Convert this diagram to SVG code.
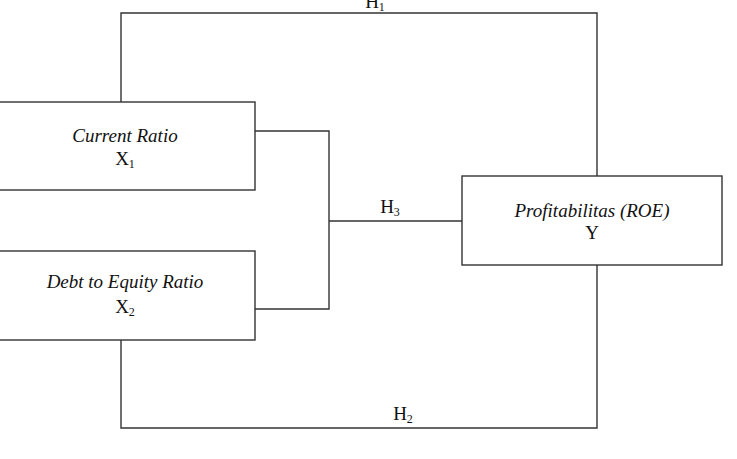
<svg xmlns="http://www.w3.org/2000/svg" width="737" height="459" viewBox="0 0 737 459">
<style>
.box{fill:#fff;stroke:#333;stroke-width:1.4}
.ln{fill:none;stroke:#333;stroke-width:1.4}
.t{font-family:"Liberation Serif","Times New Roman",serif;font-size:19px;fill:#111;text-anchor:middle}
.i{font-style:italic}
.sub{font-size:12px}
</style>
<rect width="737" height="459" fill="#fff"/>
<g id="connectors">
<polyline class="ln" points="121,102 121,13 597,13 597,176"/>
<polyline class="ln" points="121,340 121,428 597,428 597,265"/>
<polyline class="ln" points="255,131 329,131 329,309 255,309"/>
<line class="ln" x1="329" y1="221" x2="462" y2="221"/>
<text class="t" x="375" y="8">H<tspan class="sub" dy="3">1</tspan></text>
<text class="t" x="390" y="213">H<tspan class="sub" dy="3">3</tspan></text>
<text class="t" x="403" y="420">H<tspan class="sub" dy="3">2</tspan></text>
</g>
<g id="x1">
<rect class="box" x="-10" y="102" width="265" height="88"/>
<text class="t i" x="125" y="142">Current Ratio</text>
<text class="t" x="125" y="165">X<tspan class="sub" dy="3">1</tspan></text>
</g>
<g id="x2">
<rect class="box" x="-10" y="251" width="265" height="89"/>
<text class="t i" x="125" y="288">Debt to Equity Ratio</text>
<text class="t" x="125" y="313">X<tspan class="sub" dy="3">2</tspan></text>
</g>
<g id="y">
<rect class="box" x="462" y="176" width="260" height="89"/>
<text class="t i" x="592" y="217">Profitabilitas (ROE)</text>
<text class="t" x="592" y="239">Y</text>
</g>
</svg>
